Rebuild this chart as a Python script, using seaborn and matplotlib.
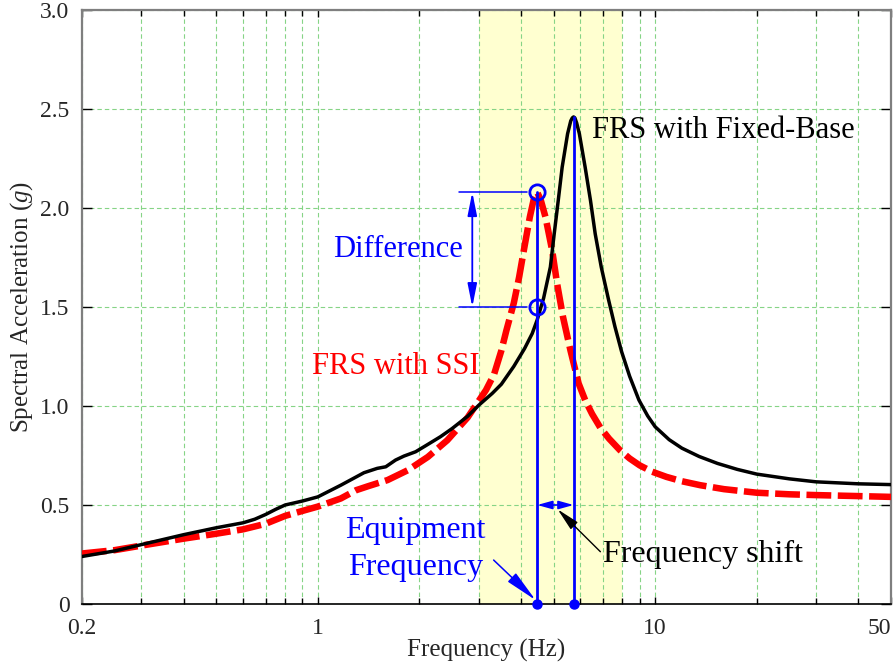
import numpy as np
import pandas as pd
import matplotlib
matplotlib.use("Agg")
import matplotlib.pyplot as plt
from matplotlib.ticker import FixedLocator, FixedFormatter, NullFormatter
import seaborn as sns

# ---------------------------------------------------------------------------
# Floor response spectra (spectral acceleration in g vs frequency in Hz)
# ---------------------------------------------------------------------------
freq_fixed = [0.2, 0.25, 0.3, 0.4, 0.5, 0.6, 0.65, 0.7, 0.75, 0.8, 0.9, 1.0,
              1.17, 1.3, 1.37, 1.5, 1.59, 1.7, 1.8, 1.95, 2.1, 2.31, 2.5,
              2.78, 3.0, 3.29, 3.5, 3.81, 4.1, 4.32, 4.47, 4.67, 4.89, 5.02,
              5.16, 5.30, 5.50, 5.62, 5.68, 5.73, 5.78, 5.85, 5.96, 6.20,
              6.43, 6.64, 6.92, 7.28, 7.6, 7.95, 8.4, 8.95, 9.5, 10.0, 11.0,
              12.0, 13.5, 15.3, 17.5, 20, 25, 30, 40, 50]
acc_fixed = [0.240, 0.268, 0.300, 0.350, 0.385, 0.410, 0.428, 0.452, 0.478,
             0.500, 0.520, 0.541, 0.600, 0.642, 0.663, 0.685, 0.693, 0.727,
             0.747, 0.769, 0.802, 0.845, 0.886, 0.948, 1.004, 1.064, 1.110,
             1.200, 1.290, 1.366, 1.435, 1.545, 1.702, 1.870, 2.038, 2.206,
             2.375, 2.440, 2.455, 2.460, 2.455, 2.430, 2.375, 2.206, 2.038,
             1.870, 1.702, 1.534, 1.400, 1.275, 1.150, 1.030, 0.950, 0.895,
             0.830, 0.787, 0.745, 0.710, 0.680, 0.656, 0.632, 0.617, 0.607,
             0.603]

freq_ssi = [0.2, 0.25, 0.3, 0.4, 0.5, 0.6, 0.7, 0.8, 0.9, 1.0, 1.17, 1.3,
            1.41, 1.61, 1.85, 2.12, 2.42, 2.78, 2.93, 3.15, 3.33, 3.5, 3.62,
            3.81, 3.95, 4.08, 4.25, 4.36, 4.47, 4.58, 4.73, 4.95, 5.12, 5.33,
            5.61, 5.93, 6.20, 6.5, 6.88, 7.3, 7.86, 8.4, 9.0, 9.8, 10.8, 12.0,
            13.6, 16.0, 20, 25, 30, 40, 50]
acc_ssi = [0.255, 0.272, 0.295, 0.330, 0.355, 0.377, 0.405, 0.445, 0.470,
           0.492, 0.533, 0.575, 0.595, 0.626, 0.676, 0.743, 0.827, 0.942,
           1.000, 1.080, 1.160, 1.280, 1.380, 1.520, 1.650, 1.786, 1.954,
           2.040, 2.080, 2.040, 1.954, 1.786, 1.618, 1.450, 1.280, 1.114,
           1.030, 0.960, 0.890, 0.835, 0.777, 0.735, 0.700, 0.668, 0.642,
           0.620, 0.600, 0.580, 0.562, 0.554, 0.550, 0.545, 0.541]

# Equipment frequency, fixed-base peak frequency and the two spectral values
# compared at the equipment frequency
f_equipment = 4.47
f_fixed_peak = 5.73
acc_fixed_peak = 2.46
acc_at_equipment = [2.08, 1.50]

# Frequency band of interest
band = [3.0, 8.0]

# Axis ticks
x_major = [0.2, 1, 10, 50]
x_major_labels = ["0.2", "1", "10", "50"]
x_minor = [0.3, 0.4, 0.5, 0.6, 0.7, 0.8, 0.9, 2, 3, 4, 5, 6, 7, 8, 9, 20, 30, 40]
y_ticks = [0, 0.5, 1.0, 1.5, 2.0, 2.5, 3.0]
y_labels = ["0", "0.5", "1.0", "1.5", "2.0", "2.5", "3.0"]

# ---------------------------------------------------------------------------
sns.set_style("ticks")
plt.rcParams["font.family"] = ["Liberation Serif", "DejaVu Serif"]
plt.rcParams["mathtext.fontset"] = "custom"
plt.rcParams["mathtext.rm"] = "Liberation Serif"
plt.rcParams["mathtext.it"] = "Liberation Serif:italic"

fig = plt.figure(figsize=(8.94, 6.65), dpi=100)
ax = fig.add_axes([82 / 894, 61 / 665, 809 / 894, 594 / 665])
ax.set_xscale("log")

df_fixed = pd.DataFrame({"Frequency": freq_fixed, "Acc": acc_fixed})
df_ssi = pd.DataFrame({"Frequency": freq_ssi, "Acc": acc_ssi})

BLUE = "#0000FF"
RED = "#FF0000"

# shaded band
ax.axvspan(band[0], band[1], color="#FFFFD0", zorder=0.1, lw=0)

sns.lineplot(data=df_ssi, x="Frequency", y="Acc", ax=ax, color=RED, lw=4.7,
             linestyle=(0, (3.8, 1.0)), estimator=None, sort=False, zorder=3)
sns.lineplot(data=df_fixed, x="Frequency", y="Acc", ax=ax, color="black",
             lw=2.5, estimator=None, sort=False, zorder=4)

# equipment frequency and fixed-base peak markers
ax.plot([f_equipment, f_equipment], [0, acc_at_equipment[0]], color=BLUE,
        lw=2.0, zorder=5)
ax.plot([f_fixed_peak, f_fixed_peak], [0, acc_fixed_peak], color=BLUE,
        lw=2.0, zorder=5)
ax.plot([f_equipment, f_fixed_peak], [0, 0], "o", color=BLUE, ms=6.5,
        clip_on=False, zorder=6)
ax.plot([f_equipment] * 2, acc_at_equipment, "o", mfc="none", mec=BLUE,
        ms=11, mew=2.0, zorder=6)

# difference dimension
for yv in acc_at_equipment:
    ax.plot([2.63, 4.17], [yv, yv], color=BLUE, lw=1.1, zorder=5)
ax.annotate("", xy=(2.87, acc_at_equipment[1]), xytext=(2.87, acc_at_equipment[0]),
            arrowprops=dict(arrowstyle="<|-|>,head_length=1.4,head_width=0.28",
                            color=BLUE, lw=1.3, shrinkA=0, shrinkB=0), zorder=6)
ax.text(1.725, 1.752, "Difference", color=BLUE, fontsize=22,
        ha="center", va="baseline")

# frequency shift dimension
ax.annotate("", xy=(f_equipment, 0.5), xytext=(f_fixed_peak, 0.5),
            arrowprops=dict(arrowstyle="<|-|>,head_length=0.9,head_width=0.25",
                            color=BLUE, lw=1.2, shrinkA=0, shrinkB=0), zorder=6)
ax.annotate("", xy=(5.14, 0.478), xytext=(6.88, 0.264),
            arrowprops=dict(arrowstyle="-|>,head_length=1.4,head_width=0.3",
                            color="black", lw=1.0, shrinkA=0, shrinkB=0), zorder=6)
ax.text(7.02, 0.213, "Frequency shift", color="black", fontsize=23,
        ha="left", va="baseline")

# equipment frequency label
ax.annotate("", xy=(4.42, 0.02), xytext=(3.32, 0.222),
            arrowprops=dict(arrowstyle="-|>,head_length=2.0,head_width=0.36",
                            color=BLUE, lw=1.1, shrinkA=0, shrinkB=0), zorder=6)
ax.text(1.95, 0.331, "Equipment", color=BLUE, fontsize=23,
        ha="center", va="baseline")
ax.text(1.95, 0.146, "Frequency", color=BLUE, fontsize=23,
        ha="center", va="baseline")

# curve labels
ax.text(6.50, 2.355, "FRS with Fixed-Base", color="black", fontsize=22,
        ha="left", va="baseline")
ax.text(1.70, 1.164, "FRS with SSI", color=RED, fontsize=22,
        ha="center", va="baseline")

# axes
ax.set_xlim(0.2, 50)
ax.set_ylim(0, 3)
ax.xaxis.set_major_locator(FixedLocator(x_major))
ax.xaxis.set_major_formatter(FixedFormatter(x_major_labels))
ax.xaxis.set_minor_locator(FixedLocator(x_minor))
ax.xaxis.set_minor_formatter(NullFormatter())
ax.set_yticks(y_ticks)
ax.set_yticklabels(y_labels)

ax.set_axisbelow(True)
grid_kw = dict(color="#86D486", lw=0.8, linestyle=(0, (4, 2.7)))
ax.grid(True, which="both", axis="x", **grid_kw)
ax.grid(True, which="major", axis="y", **grid_kw)

ax.tick_params(axis="both", which="both", direction="in", top=True,
               right=True, color="black", labelsize=17)
ax.tick_params(axis="x", which="major", length=5, width=1, pad=10)
ax.tick_params(axis="x", which="minor", length=4.3, width=1)
ax.tick_params(axis="y", which="major", length=7, width=1, pad=9)

for side in ["left", "top", "right"]:
    ax.spines[side].set_color("#7F7F7F")
    ax.spines[side].set_linewidth(1.6)
ax.spines["bottom"].set_color("black")
ax.spines["bottom"].set_linewidth(1.2)

labels = ax.get_xticklabels()
labels[-1].set_horizontalalignment("right")

ax.set_xlabel("Frequency (Hz)", fontsize=18, labelpad=0)
ax.set_ylabel("Spectral Acceleration ($g$)", fontsize=18)
ax.yaxis.set_label_coords(-0.058, 0.5)

fig.savefig("out.png", dpi=100)
